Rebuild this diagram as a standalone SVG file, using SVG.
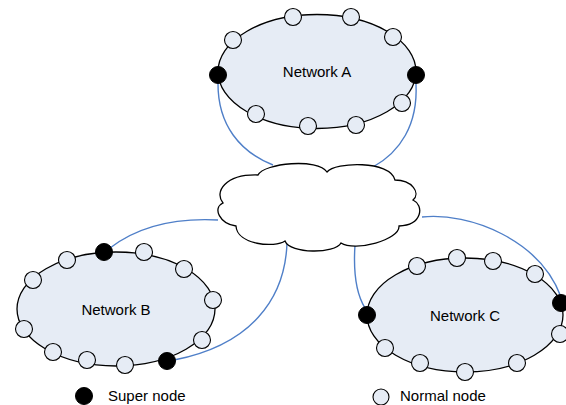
<svg xmlns="http://www.w3.org/2000/svg" width="566" height="405" viewBox="0 0 566 405">
<style>
.net{fill:#E6ECF5;stroke:#000;stroke-width:1.3}
.n{fill:#E6ECF5;stroke:#000;stroke-width:1.1}
.s{fill:#000;stroke:#000;stroke-width:1}
.c{fill:none;stroke:#4F7FC8;stroke-width:1.4}
.t{font-family:"Liberation Sans",Arial,sans-serif;font-size:15px;fill:#000}
</style>
<rect width="566" height="405" fill="#fff"/>
<g id="connectors">
<path class="c" d="M218,84 C218,125 240,152 273,165"/>
<path class="c" d="M416,84 C418,125 400,152 373,167"/>
<path class="c" d="M110,248 C140,225 180,218 218,220"/>
<path class="c" d="M287,243 C285,300 250,345 174,360"/>
<path class="c" d="M355,245 C353,275 357,295 365,308"/>
<path class="c" d="M422,217 C470,212 540,240 561,297"/>
</g>
<g id="cloud">
<path d="M258,175 C264,163 318,158 327,172 C335,162 390,160 395,180 C412,180 421,193 413,200 C424,205 423,225 399,226 C400,240 355,252 341,243 C335,254 290,254 285,241 C275,248 237,245 236,226 C220,224 212,208 223,203 C214,192 225,174 258,175 Z" fill="#fff" stroke="#000" stroke-width="1.3"/>
</g>
<g id="networkA">
<ellipse class="net" cx="317" cy="71.5" rx="99" ry="57"/>
<text class="t" x="317" y="77" text-anchor="middle">Network A</text>
<circle class="n" cx="233" cy="40" r="8.5"/>
<circle class="n" cx="293" cy="17" r="8.5"/>
<circle class="n" cx="351" cy="17" r="8.5"/>
<circle class="n" cx="393" cy="37" r="8.5"/>
<circle class="n" cx="256" cy="114" r="8.5"/>
<circle class="n" cx="308" cy="126" r="8.5"/>
<circle class="n" cx="356" cy="125" r="8.5"/>
<circle class="n" cx="402" cy="103" r="8.5"/>
<circle class="s" cx="218" cy="75" r="8.5"/>
<circle class="s" cx="416" cy="75" r="8.5"/>
</g>
<g id="networkB">
<ellipse class="net" cx="116" cy="309" rx="99" ry="57"/>
<text class="t" x="116" y="314.5" text-anchor="middle">Network B</text>
<circle class="n" cx="67" cy="260" r="8.5"/>
<circle class="n" cx="33" cy="280" r="8.5"/>
<circle class="n" cx="144" cy="252" r="8.5"/>
<circle class="n" cx="184" cy="269" r="8.5"/>
<circle class="n" cx="213" cy="300" r="8.5"/>
<circle class="n" cx="24" cy="329" r="8.5"/>
<circle class="n" cx="202" cy="340" r="8.5"/>
<circle class="n" cx="53" cy="352" r="8.5"/>
<circle class="n" cx="87" cy="360" r="8.5"/>
<circle class="n" cx="125" cy="365" r="8.5"/>
<circle class="s" cx="104" cy="252" r="8.5"/>
<circle class="s" cx="167" cy="361" r="8.5"/>
</g>
<g id="networkC">
<ellipse class="net" cx="465" cy="315" rx="98" ry="57"/>
<text class="t" x="465" y="320.5" text-anchor="middle">Network C</text>
<circle class="n" cx="417" cy="266" r="8.5"/>
<circle class="n" cx="457" cy="258" r="8.5"/>
<circle class="n" cx="493" cy="261" r="8.5"/>
<circle class="n" cx="535" cy="274" r="8.5"/>
<circle class="n" cx="560" cy="334" r="8.5"/>
<circle class="n" cx="385" cy="348" r="8.5"/>
<circle class="n" cx="420" cy="363" r="8.5"/>
<circle class="n" cx="465" cy="372" r="8.5"/>
<circle class="n" cx="517" cy="363" r="8.5"/>
<circle class="s" cx="367" cy="315" r="8.5"/>
<circle class="s" cx="561" cy="303" r="8.5"/>
</g>
<g id="legend">
<circle class="s" cx="84" cy="396" r="8.5"/>
<text class="t" x="108" y="401">Super node</text>
<circle class="n" cx="381" cy="397" r="8"/>
<text class="t" x="400" y="401">Normal node</text>
</g>
</svg>
